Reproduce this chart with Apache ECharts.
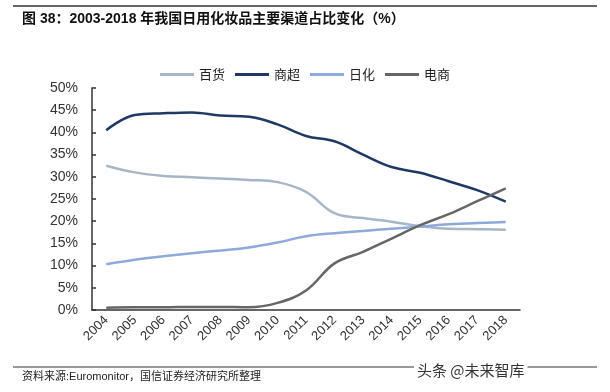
<!DOCTYPE html>
<html><head><meta charset="utf-8">
<script src="https://cdn.jsdelivr.net/npm/echarts@6/dist/echarts.min.js"></script>
<style>html,body{margin:0;padding:0;background:#fff}#c{width:610px;height:392px}</style>
</head><body><div id="c"></div>
<script>
var years = ['2004','2005','2006','2007','2008','2009','2010','2011','2012','2013','2014','2015','2016','2017','2018'];
var yTicks = [0,5,10,15,20,25,30,35,40,45,50];
var baihuo = [32.5,31.0,30.2,29.9,29.6,29.3,28.8,26.6,21.8,20.7,19.9,18.9,18.3,18.2,18.1];
var shangchao = [40.5,43.9,44.3,44.5,43.8,43.5,41.8,39.2,38.0,35.0,32.2,30.9,29.0,27.0,24.4];
var rihua = [10.3,11.3,12.1,12.8,13.4,14.1,15.2,16.6,17.3,17.8,18.3,18.8,19.3,19.6,19.8];
var dianshang = [0.5,0.6,0.6,0.7,0.7,0.6,1.6,4.4,10.5,13.1,16.1,19.1,21.6,24.5,27.4];
var names = ['百货','商超','日化','电商'];
var colors = ['#A7B6C6','#1F3864','#8EA9DB','#666666'];

var chart = echarts.init(document.getElementById('c'));
var data = [baihuo, shangchao, rihua, dianshang];
var series = names.map(function(n,i){
  return {name:n,type:'line',data:data[i],smooth:0.4,symbol:'none',
    lineStyle:{color:colors[i],width:2.5},itemStyle:{color:colors[i]}};
});
chart.setOption({
  animation:false,
  grid:{left:92,top:88,right:90,bottom:82,containLabel:false},
  legend:{top:63,left:'center',icon:'rect',itemWidth:34,itemHeight:3,itemGap:10,
    textStyle:{fontFamily:'Noto Sans CJK SC',fontSize:13,color:'#222'},data:names},
  xAxis:{type:'category',data:years,boundaryGap:true,
    axisLine:{lineStyle:{color:'#333',width:1.5}},
    axisTick:{inside:true,length:4,lineStyle:{color:'#333',width:1.5}},
    axisLabel:{rotate:45,fontFamily:'Arial, Liberation Sans',fontSize:13,color:'#333',margin:8}},
  yAxis:{type:'value',min:0,max:50,interval:5,
    axisLine:{show:true,lineStyle:{color:'#333',width:1.5}},
    axisTick:{show:true,inside:true,length:4,lineStyle:{color:'#333',width:1.5}},
    splitLine:{show:false},
    axisLabel:{formatter:function(v){return v+'%';},fontFamily:'Arial, Liberation Sans',fontSize:14,color:'#333',margin:14}},
  series:series,
  graphic:[
    {type:'line',shape:{x1:13,y1:6,x2:597,y2:6},style:{stroke:'#333',lineWidth:1.5}},
    {type:'text',left:22,top:12,style:{text:'图 38：2003-2018 年我国日用化妆品主要渠道占比变化（%）',
      font:'bold 14px "Liberation Sans", "Noto Sans CJK SC"',fill:'#111'}},
    {type:'line',shape:{x1:13,y1:367,x2:597,y2:367},style:{stroke:'#333',lineWidth:1}},
    {type:'text',left:22,top:371,style:{text:'资料来源:Euromonitor，国信证券经济研究所整理',
      font:'11px "Liberation Sans", "Noto Sans CJK SC"',fill:'#222'}},
    {type:'text',left:414,top:363,style:{text:'头条 @未来智库',
      font:'15px "Noto Sans CJK SC"',fill:'#333',backgroundColor:'#fff',padding:[0,3]}}
  ]
});
</script></body></html>
